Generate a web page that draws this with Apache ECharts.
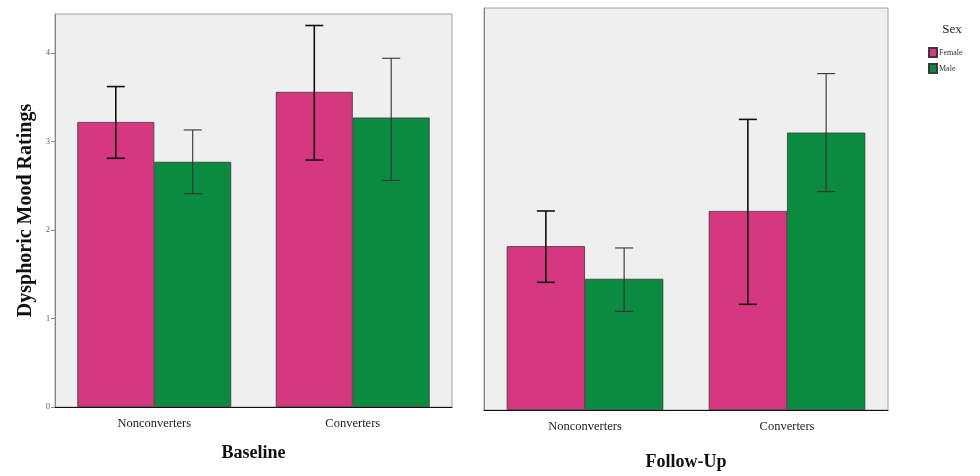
<!DOCTYPE html>
<html>
<head>
<meta charset="utf-8">
<script src="https://cdn.jsdelivr.net/npm/echarts@6/dist/echarts.min.js"></script>
<style>
html,body{margin:0;padding:0;background:#fff;}
#chart{width:980px;height:476px;}
</style>
</head>
<body>
<div id="chart"></div>
<script>
var categories = ['Nonconverters', 'Converters'];
var yTickValues = [0, 1, 2, 3, 4];

var baselineFemale = [3.22, 3.56];
var baselineFemaleLow = [2.81, 2.79];
var baselineFemaleHigh = [3.62, 4.31];
var baselineMale = [2.77, 3.27];
var baselineMaleLow = [2.41, 2.56];
var baselineMaleHigh = [3.13, 3.94];

var followFemale = [1.86, 2.26];
var followFemaleLow = [1.45, 1.20];
var followFemaleHigh = [2.26, 3.30];
var followMale = [1.49, 3.15];
var followMaleLow = [1.12, 2.48];
var followMaleHigh = [1.84, 3.82];

var PINK = '#d5387f';
var GREEN = '#0a8b40';
var GAP = 0.225;
var FONT = '"Liberation Serif", "DejaVu Serif", serif';

function errData(low, high) {
  return categories.map(function (c, i) { return [i, low[i], high[i]]; });
}

function errSeries(name, gridIdx, low, high, side, color, width) {
  return {
    type: 'custom',
    name: name + '_err',
    xAxisIndex: gridIdx,
    yAxisIndex: gridIdx,
    z: 10,
    silent: true,
    data: errData(low, high),
    renderItem: function (params, api) {
      var idx = api.value(0);
      var lo = api.coord([idx, api.value(1)]);
      var hi = api.coord([idx, api.value(2)]);
      var band = api.size([1, 0])[0];
      var bw = band * (1 - GAP) / 2;
      var x = lo[0] + side * bw / 2;
      var cap = 9;
      var st = { stroke: color, lineWidth: width };
      return {
        type: 'group',
        children: [
          { type: 'line', shape: { x1: x, y1: lo[1], x2: x, y2: hi[1] }, style: st },
          { type: 'line', shape: { x1: x - cap, y1: hi[1], x2: x + cap, y2: hi[1] }, style: st },
          { type: 'line', shape: { x1: x - cap, y1: lo[1], x2: x + cap, y2: lo[1] }, style: st }
        ]
      };
    }
  };
}

function barSeries(name, gridIdx, data, color) {
  return {
    type: 'bar',
    name: name,
    xAxisIndex: gridIdx,
    yAxisIndex: gridIdx,
    data: data,
    barGap: '0%',
    barCategoryGap: (GAP * 100) + '%',
    itemStyle: { color: color, borderColor: '#3a3a3a', borderWidth: 0.8 }
  };
}

var chart = echarts.init(document.getElementById('chart'));
chart.setOption({
  backgroundColor: '#ffffff',
  animation: false,
  title: {
    text: 'Sex',
    left: 947, top: 18,
    textAlign: 'center',
    textStyle: { fontFamily: FONT, fontSize: 13, fontWeight: 'normal', color: '#222' }
  },
  legend: {
    data: ['Female', 'Male'],
    left: 923, top: 42,
    orient: 'vertical',
    itemWidth: 8, itemHeight: 9, itemGap: 5,
    icon: 'rect',
    textStyle: { fontFamily: FONT, fontSize: 8, color: '#333', padding: [0, 0, 0, -3] }
  },
  grid: [
    { left: 55, top: 14, width: 397, height: 393, show: true, backgroundColor: '#efefef', borderColor: '#a0a0a0', borderWidth: 1 },
    { left: 484, top: 8, width: 404, height: 404, show: true, backgroundColor: '#efefef', borderColor: '#a0a0a0', borderWidth: 1 }
  ],
  xAxis: [
    {
      type: 'category', gridIndex: 0, data: categories,
      name: 'Baseline', nameLocation: 'middle', nameGap: 37,
      nameTextStyle: { fontFamily: FONT, fontSize: 18, fontWeight: 'bold', color: '#111' },
      axisLine: { lineStyle: { color: '#111', width: 1.2 } },
      axisTick: { alignWithLabel: true, length: 8, lineStyle: { color: '#111' } },
      axisLabel: { fontFamily: FONT, fontSize: 12.5, color: '#222', margin: 10 }
    },
    {
      type: 'category', gridIndex: 1, data: categories,
      name: 'Follow-Up', nameLocation: 'middle', nameGap: 43,
      nameTextStyle: { fontFamily: FONT, fontSize: 18, fontWeight: 'bold', color: '#111' },
      axisLine: { lineStyle: { color: '#111', width: 1.2 } },
      axisTick: { alignWithLabel: true, length: 8, lineStyle: { color: '#111' } },
      axisLabel: { fontFamily: FONT, fontSize: 12.5, color: '#222', margin: 10 }
    }
  ],
  yAxis: [
    {
      type: 'value', gridIndex: 0, min: 0, max: 4.44, interval: 1,
      name: 'Dysphoric Mood Ratings', nameLocation: 'middle', nameGap: 19,
      nameTextStyle: { fontFamily: FONT, fontSize: 20, fontWeight: 'bold', color: '#111' },
      axisLine: { show: true, lineStyle: { color: '#888' } },
      axisTick: { show: true, length: 4, customValues: yTickValues, lineStyle: { color: '#888' } },
      axisLabel: { fontFamily: FONT, fontSize: 8, color: '#555', margin: 5, customValues: yTickValues },
      splitLine: { show: false }
    },
    {
      type: 'value', gridIndex: 1, min: 0, max: 4.565,
      axisLine: { show: true, lineStyle: { color: '#888' } },
      axisTick: { show: false },
      axisLabel: { show: false },
      splitLine: { show: false }
    }
  ],
  series: [
    barSeries('Female', 0, baselineFemale, PINK),
    barSeries('Male', 0, baselineMale, GREEN),
    barSeries('Female', 1, followFemale, PINK),
    barSeries('Male', 1, followMale, GREEN),
    errSeries('bf', 0, baselineFemaleLow, baselineFemaleHigh, -1, '#111', 1.6),
    errSeries('bm', 0, baselineMaleLow, baselineMaleHigh, 1, '#333', 1.1),
    errSeries('ff', 1, followFemaleLow, followFemaleHigh, -1, '#111', 1.6),
    errSeries('fm', 1, followMaleLow, followMaleHigh, 1, '#333', 1.1)
  ]
});
</script>
</body>
</html>
